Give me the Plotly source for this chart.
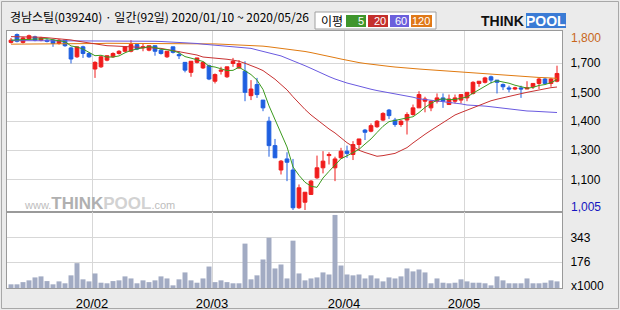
import plotly.graph_objects as go

# ---------------- data ----------------
stock_name = "경남스틸"
stock_code = "039240"
year = 2020
jan_days = [10, 13, 14, 15, 16, 17, 20, 21, 22, 23, 28, 29, 30, 31]
feb_days = [3, 4, 5, 6, 7, 10, 11, 12, 13, 14, 17, 18, 19, 20, 21, 24, 25, 26, 27, 28]
mar_days = [2, 3, 4, 5, 6, 9, 10, 11, 12, 13, 16, 17, 18, 19, 20, 23, 24, 25, 26, 27, 30, 31]
apr_days = [1, 2, 3, 6, 7, 8, 9, 10, 13, 14, 16, 17, 20, 21, 22, 23, 24, 27, 28, 29]
may_days = [4, 6, 7, 8, 11, 12, 13, 14, 15, 18, 19, 20, 21, 22, 25, 26]

opens = [1760, 1795, 1760, 1775, 1785, 1770, 1770, 1770, 1755, 1770,
         1735, 1695, 1740, 1710, 1640, 1650, 1680, 1695, 1710, 1720,
         1720, 1750, 1735, 1725, 1745, 1725, 1695, 1740, 1705, 1670,
         1625, 1670, 1645, 1655, 1585, 1630, 1605, 1665, 1645, 1630,
         1520, 1570, 1500, 1405, 1295, 1185, 1235, 1185, 1015, 1040,
         1075, 1150, 1195, 1250, 1195, 1240, 1270, 1255, 1300, 1365,
         1360, 1380, 1410, 1455, 1410, 1390, 1410, 1435, 1465, 1495,
         1465, 1495, 1510, 1480, 1495, 1500, 1510, 1530, 1575, 1580,
         1605, 1590, 1570, 1555, 1550, 1555, 1550, 1560, 1575, 1595,
         1575, 1585]
highs = [1780, 1800, 1785, 1795, 1790, 1785, 1775, 1775, 1775, 1770,
         1740, 1740, 1745, 1715, 1675, 1700, 1700, 1715, 1725, 1740,
         1770, 1750, 1755, 1745, 1745, 1730, 1720, 1740, 1720, 1670,
         1675, 1690, 1675, 1660, 1620, 1650, 1650, 1690, 1680, 1675,
         1590, 1600, 1500, 1425, 1325, 1230, 1265, 1235, 1120, 1085,
         1140, 1250, 1270, 1265, 1245, 1285, 1295, 1315, 1325, 1370,
         1395, 1410, 1445, 1460, 1420, 1410, 1445, 1480, 1540, 1515,
         1500, 1530, 1530, 1525, 1525, 1525, 1535, 1585, 1585, 1605,
         1610, 1590, 1575, 1565, 1560, 1565, 1585, 1575, 1600, 1600,
         1600, 1655]
lows = [1755, 1760, 1755, 1770, 1765, 1765, 1760, 1740, 1750, 1740,
        1665, 1690, 1690, 1690, 1600, 1645, 1675, 1690, 1705, 1715,
        1715, 1725, 1720, 1720, 1700, 1705, 1690, 1710, 1685, 1625,
        1605, 1665, 1640, 1590, 1575, 1615, 1600, 1650, 1640, 1495,
        1500, 1510, 1450, 1245, 1240, 1165, 1135, 1005, 1010, 1005,
        1075, 1145, 1170, 1210, 1135, 1235, 1240, 1230, 1275, 1320,
        1355, 1375, 1405, 1415, 1380, 1380, 1345, 1430, 1465, 1445,
        1450, 1485, 1465, 1480, 1485, 1485, 1495, 1525, 1560, 1575,
        1575, 1530, 1545, 1535, 1545, 1510, 1550, 1550, 1550, 1570,
        1560, 1580]
closes = [1770, 1765, 1780, 1790, 1770, 1780, 1765, 1755, 1770, 1745,
          1685, 1740, 1710, 1695, 1670, 1695, 1700, 1710, 1720, 1740,
          1750, 1730, 1740, 1745, 1720, 1710, 1720, 1715, 1700, 1635,
          1675, 1690, 1670, 1595, 1615, 1635, 1650, 1675, 1665, 1535,
          1550, 1525, 1465, 1295, 1240, 1225, 1220, 1015, 1105, 1085,
          1135, 1195, 1225, 1255, 1235, 1270, 1260, 1300, 1325, 1355,
          1385, 1405, 1440, 1430, 1390, 1405, 1435, 1465, 1525, 1505,
          1495, 1510, 1495, 1505, 1510, 1525, 1535, 1580, 1585, 1600,
          1590, 1580, 1560, 1550, 1555, 1550, 1555, 1575, 1595, 1575,
          1595, 1620]

ma5 = [1770, 1771, 1773, 1775, 1775, 1777, 1777, 1772, 1768, 1763,
       1744, 1739, 1730, 1715, 1700, 1702, 1694, 1694, 1699, 1713,
       1724, 1730, 1736, 1741, 1737, 1729, 1727, 1722, 1713, 1696,
       1689, 1683, 1674, 1653, 1649, 1641, 1633, 1634, 1648, 1632,
       1615, 1590, 1548, 1474, 1415, 1350, 1289, 1199, 1161, 1130,
       1112, 1107, 1149, 1179, 1209, 1236, 1249, 1264, 1278, 1302,
       1325, 1354, 1382, 1403, 1410, 1414, 1420, 1425, 1444, 1467,
       1485, 1500, 1506, 1502, 1503, 1509, 1514, 1531, 1547, 1565,
       1578, 1587, 1583, 1576, 1567, 1559, 1554, 1557, 1566, 1570,
       1579, 1592]
ma20 = [1786, 1786, 1785, 1784, 1784, 1783, 1781, 1779, 1777, 1775,
        1771, 1766, 1762, 1756, 1751, 1748, 1745, 1744, 1743, 1742,
        1741, 1740, 1739, 1737, 1735, 1733, 1728, 1723, 1718, 1713,
        1708, 1703, 1694, 1692, 1691, 1688, 1684, 1680, 1675, 1666,
        1657, 1645, 1633, 1614, 1594, 1570, 1546, 1515, 1484, 1458,
        1433, 1411, 1389, 1370, 1352, 1330, 1308, 1291, 1274, 1264,
        1254, 1247, 1250, 1255, 1260, 1273, 1286, 1307, 1328, 1346,
        1364, 1382, 1400, 1417, 1433, 1444, 1455, 1467, 1478, 1488,
        1497, 1504, 1511, 1517, 1523, 1529, 1535, 1541, 1546, 1551,
        1556, 1559]
ma60 = [1768, 1768, 1768, 1768, 1768, 1768, 1768, 1768, 1768, 1768,
        1768, 1768, 1768, 1768, 1768, 1768, 1768, 1768, 1768, 1768,
        1768, 1768, 1767, 1766, 1765, 1764, 1763, 1761, 1760, 1758,
        1757, 1755, 1752, 1750, 1748, 1745, 1743, 1741, 1738, 1736,
        1733, 1726, 1719, 1712, 1706, 1699, 1688, 1678, 1667, 1655,
        1643, 1630, 1616, 1606, 1595, 1585, 1577, 1570, 1562, 1556,
        1549, 1543, 1538, 1533, 1528, 1524, 1520, 1513, 1506, 1503,
        1499, 1496, 1493, 1490, 1487, 1483, 1478, 1477, 1475, 1473,
        1470, 1467, 1463, 1459, 1455, 1453, 1451, 1450, 1448, 1447,
        1445, 1444]
ma120 = [1752, 1752, 1753, 1753, 1753, 1754, 1754, 1754, 1754, 1755,
         1755, 1755, 1755, 1755, 1755, 1755, 1756, 1756, 1756, 1756,
         1756, 1756, 1756, 1756, 1756, 1756, 1756, 1756, 1756, 1756,
         1756, 1756, 1755, 1754, 1753, 1752, 1751, 1750, 1749, 1748,
         1747, 1745, 1743, 1740, 1737, 1734, 1731, 1727, 1723, 1719,
         1714, 1709, 1703, 1697, 1691, 1685, 1679, 1674, 1669, 1665,
         1661, 1658, 1655, 1652, 1649, 1646, 1644, 1642, 1640, 1638,
         1636, 1634, 1632, 1630, 1628, 1626, 1624, 1622, 1620, 1618,
         1616, 1614, 1612, 1610, 1608, 1607, 1605, 1604, 1602, 1601,
         1600, 1598]

volume_k = [25, 25, 40, 52, 72, 79, 47, 25, 45, 32,
            86, 169, 59, 45, 99, 36, 32, 47, 52, 79,
            65, 32, 52, 40, 52, 79, 65, 18, 59, 106,
            52, 36, 65, 146, 40, 52, 40, 32, 32, 302,
            59, 86, 194, 342, 133, 160, 65, 322, 99, 52,
            65, 72, 106, 92, 497, 153, 92, 86, 92, 65,
            86, 65, 45, 72, 65, 79, 133, 113, 126, 106,
            32, 65, 36, 32, 36, 59, 45, 36, 36, 32,
            18, 79, 52, 32, 32, 32, 65, 32, 32, 36,
            52, 45]

price_grid_vals = [1666, 1535, 1405, 1274, 1143]
price_grid_text = ["1,700", "1,500", "1,400", "1,300", "1,100"]
vol_grid_vals = [343, 176]
vol_grid_text = ["343", "176"]
ma_names = ["5", "20", "60", "120"]

# ---------------- styles ----------------
RED = "#f01c1c"
BLUE = "#1f5fe0"
MA_COLORS = ["#3b9a1e", "#c83232", "#6a5ae0", "#e07a10"]
LEG_COLORS = ["#3f962c", "#c4302c", "#6b5fdc", "#e07818"]
VOL_COLOR = "#a2abc3"
GRID = "#d7d7d7"
BORDER = "#9a9a9a"
BG = "#ebebeb"
FONT = "Liberation Sans"
KFONT = "Noto Sans CJK KR"

W, H = 620, 310
ML, MR, MT, MB = 7, 58, 31, 22
PW = W - ML - MR
PH = H - MT - MB


def px(x):
    return (x - ML) / PW


def py(y):
    return (H - MB - y) / PH


months = [(1, jan_days), (2, feb_days), (3, mar_days), (4, apr_days), (5, may_days)]
dates = [f"{year}/{m:02d}/{d:02d}" for m, days in months for d in days]
idx = list(range(len(dates)))

month_pos = []
month_lab = []
for i in range(1, len(dates)):
    if dates[i][5:7] != dates[i - 1][5:7]:
        month_pos.append(i - 0.5)
        month_lab.append(f"{dates[i][2:4]}/{dates[i][5:7]}")

split = py(212)

fig = go.Figure()
fig.add_trace(go.Candlestick(
    x=idx, open=opens, high=highs, low=lows, close=closes,
    increasing=dict(line=dict(color=RED, width=1), fillcolor=RED),
    decreasing=dict(line=dict(color=BLUE, width=1), fillcolor=BLUE),
    whiskerwidth=0, xaxis="x", yaxis="y", showlegend=False, hoverinfo="skip"))
for ser, col in zip([ma120, ma60, ma20, ma5], MA_COLORS[::-1]):
    fig.add_trace(go.Scatter(x=idx, y=ser, mode="lines",
                             line=dict(color=col, width=1),
                             xaxis="x", yaxis="y", showlegend=False, hoverinfo="skip"))
fig.add_trace(go.Bar(x=idx, y=volume_k, marker=dict(color=VOL_COLOR, line=dict(width=0)),
                     xaxis="x2", yaxis="y2", showlegend=False, hoverinfo="skip"))

xr = [(ML - 11) / 6.0, (W - MR - 11) / 6.0]
axis_common = dict(showline=True, linecolor=BORDER, linewidth=1, mirror=True,
                   zeroline=False, gridcolor=GRID, gridwidth=1, ticks="",
                   automargin=False)

fig.update_layout(
    width=W, height=H, margin=dict(l=ML, r=MR, t=MT, b=MB, pad=0, autoexpand=False),
    paper_bgcolor=BG, plot_bgcolor="white",
    boxgap=0.12, bargap=0.17, showlegend=False,
    xaxis=dict(domain=[0, 1], anchor="y", range=xr, tickvals=month_pos,
               showticklabels=False, showgrid=True,
               rangeslider=dict(visible=False), **axis_common),
    yaxis=dict(domain=[split, 1], anchor="x", range=[995.96, 1811.26], side="right",
               tickvals=price_grid_vals, ticktext=price_grid_text, showgrid=True,
               tickfont=dict(family=FONT, size=12, color="black"),
               ticklabelstandoff=5, **axis_common),
    xaxis2=dict(domain=[0, 1], anchor="y2", matches="x", tickvals=month_pos,
                ticktext=month_lab, showgrid=True,
                tickfont=dict(family=FONT, size=13, color="black"),
                ticklabelstandoff=3, **axis_common),
    yaxis2=dict(domain=[0, split], anchor="x2", range=[0, 517], side="right",
                tickvals=vol_grid_vals, ticktext=vol_grid_text, showgrid=True,
                tickfont=dict(family=FONT, size=12, color="black"),
                ticklabelstandoff=5, **axis_common),
)

shapes = []
# outer frame
shapes.append(dict(type="rect", xref="paper", yref="paper",
                   x0=px(1.5), x1=px(618.5), y0=py(308.5), y1=py(1.5),
                   line=dict(color="#a8a8a8", width=1), fillcolor="rgba(0,0,0,0)", layer="below"))
# legend box
shapes.append(dict(type="rect", xref="paper", yref="paper",
                   x0=px(315), x1=px(436), y0=py(29), y1=py(12),
                   line=dict(color="#a0a0a0", width=1), fillcolor="white"))
leg_boxes = [(346, 366), (368, 388), (390, 409), (411, 432)]
for (a, b), col in zip(leg_boxes, LEG_COLORS):
    shapes.append(dict(type="rect", xref="paper", yref="paper",
                       x0=px(a), x1=px(b), y0=py(27), y1=py(15),
                       line=dict(width=0), fillcolor=col))
# logo blue block
shapes.append(dict(type="rect", xref="paper", yref="paper",
                   x0=px(526), x1=px(566), y0=py(28), y1=py(13),
                   line=dict(width=0), fillcolor="#3a7bd5"))
fig.update_layout(shapes=shapes)

ann = []
title = f"{stock_name}({stock_code}) · 일간({len(dates)}일) {dates[0]} ~ {dates[-1]}"
ann.append(dict(text=title, xref="paper", yref="paper", x=px(8), y=py(17),
                xanchor="left", yanchor="middle", showarrow=False,
                font=dict(family=KFONT, size=12, color="black")))
ann.append(dict(text="이평", xref="paper", yref="paper", x=px(319), y=py(20.5),
                xanchor="left", yanchor="middle", showarrow=False,
                font=dict(family=KFONT, size=12, color="black")))
for (a, b), name in zip(leg_boxes, ma_names):
    ann.append(dict(text=name, xref="paper", yref="paper", x=px(b), y=py(21),
                    xanchor="right", yanchor="middle", showarrow=False,
                    font=dict(family=FONT, size=11, color="white")))
ann.append(dict(text="<b>THINK</b>", xref="paper", yref="paper", x=px(526), y=py(21),
                xanchor="right", yanchor="middle", showarrow=False,
                font=dict(family=FONT, size=14, color="#111111")))
ann.append(dict(text="<b>POOL</b>", xref="paper", yref="paper", x=px(546), y=py(21),
                xanchor="center", yanchor="middle", showarrow=False,
                font=dict(family=FONT, size=14, color="white")))
ann.append(dict(text="www.<b><span style='font-size:17px;color:#b0b0b0'>THINK</span>"
                     "<span style='font-size:17px;color:#d2d2d2'>POOL</span></b>.com",
                xref="paper", yref="paper", x=px(22), y=py(203),
                xanchor="left", yanchor="middle", showarrow=False,
                font=dict(family=FONT, size=11, color="#bdbdbd")))
hi = max(highs)
lo = min(lows)
ann.append(dict(text=f"{hi:,}", xref="paper", yref="y", x=1, y=hi, xshift=7, yshift=-4,
                xanchor="left", yanchor="middle", showarrow=False,
                font=dict(family=FONT, size=12, color="#c8661a")))
ann.append(dict(text=f"{lo:,}", xref="paper", yref="y", x=1, y=lo, xshift=7, yshift=3,
                xanchor="left", yanchor="middle", showarrow=False,
                font=dict(family=FONT, size=12, color="#1515c0")))
ann.append(dict(text="x1000", xref="paper", yref="paper", x=px(569), y=py(286),
                xanchor="left", yanchor="middle", showarrow=False,
                font=dict(family=FONT, size=12, color="black")))
fig.update_layout(annotations=ann)

fig.write_html("out.html")
